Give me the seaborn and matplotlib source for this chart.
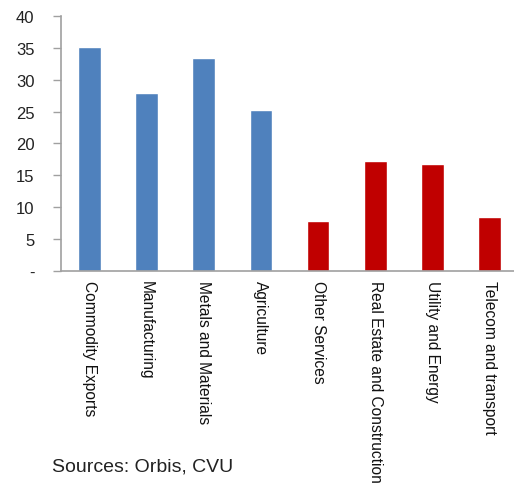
import matplotlib
matplotlib.use("Agg")
import matplotlib.pyplot as plt
import seaborn as sns
import numpy as np
import pandas as pd

categories = ["Commodity Exports", "Manufacturing", "Metals and Materials", "Agriculture",
              "Other Services", "Real Estate and Construction", "Utility and Energy",
              "Telecom and transport"]
values = [35.1, 27.9, 33.4, 25.3, 7.8, 17.3, 16.8, 8.4]
groups = ["Commodity", "Commodity", "Commodity", "Commodity",
          "Non-commodity", "Non-commodity", "Non-commodity", "Non-commodity"]
yticks = [0, 5, 10, 15, 20, 25, 30, 35, 40]
yticklabels = ["-", "5", "10", "15", "20", "25", "30", "35", "40"]
source_text = "Sources: Orbis, CVU"

sns.set_style("white")
plt.rcParams["font.family"] = ["Liberation Sans", "DejaVu Sans"]

df = pd.DataFrame({"category": categories, "value": values, "group": groups})

fig = plt.figure(figsize=(5.14, 4.89), dpi=100)
ax = fig.add_axes([61/514, 1-271.7/489, (518-61)/514, (271.7-17)/489])

sns.barplot(data=df, x="category", y="value", hue="group",
            palette={"Commodity": "#4F81BD", "Non-commodity": "#C00000"},
            dodge=False, width=0.4, legend=False, ax=ax, saturation=1)

ax.set_xlim(-0.5, 7.5)
ax.set_ylim(0, 40)
ax.set_yticks(yticks)
ax.set_yticklabels(yticklabels, fontsize=12, color="#222222")
ax.set_xlabel("")
ax.set_ylabel("")

ax.set_xticks(range(len(categories)))
ax.set_xticklabels(categories, rotation=-90, fontsize=11.2, ha="center", va="top", color="#111111")
ax.set_xticks(np.arange(-0.5, 8.0, 1.0), minor=True)
ax.tick_params(axis="x", which="major", length=0, pad=7)
ax.tick_params(axis="x", which="minor", length=5, width=1, color="#A0A0A0", direction="out")
ax.tick_params(axis="y", which="major", length=6, width=1, color="#A0A0A0", direction="out", pad=13, left=True)

for s in ["top", "right"]:
    ax.spines[s].set_visible(False)
for s in ["left", "bottom"]:
    ax.spines[s].set_color("#A0A0A0")
    ax.spines[s].set_linewidth(1.2)

fig.text(52/514, 1-467/489, source_text, fontsize=14, color="#222222", ha="left", va="center")

fig.savefig("out.png", dpi=100)
